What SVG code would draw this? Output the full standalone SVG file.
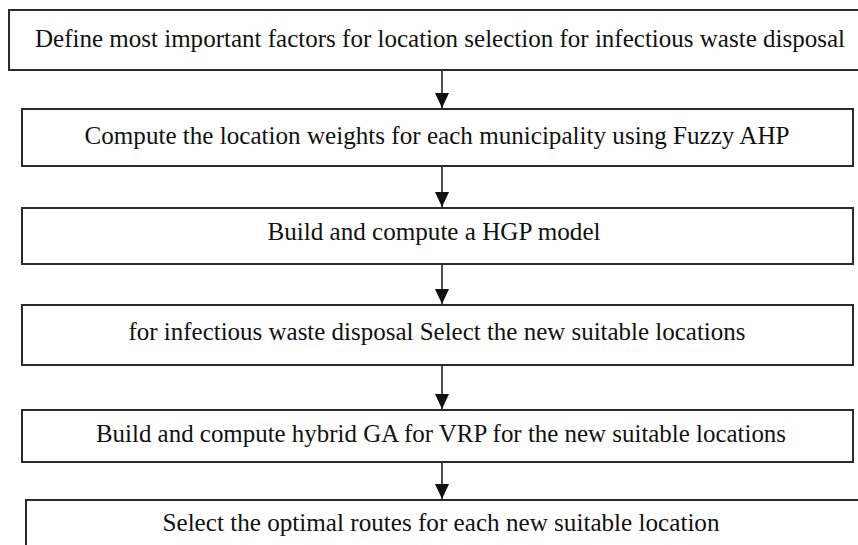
<svg xmlns="http://www.w3.org/2000/svg" width="858" height="545" viewBox="0 0 858 545">
  <style>
    .box { fill: #ffffff; stroke: #2b2b2b; stroke-width: 2; }
    .lbl { font-family: 'Liberation Serif', 'Times New Roman', Times, serif; font-size: 26px; fill: #111111; text-anchor: middle; }
    .link { stroke: #222222; stroke-width: 1.6; fill: none; marker-end: url(#head); }
  </style>
  <defs>
    <!-- solid triangular arrowhead, tip at the line end -->
    <marker id="head" viewBox="0 0 15 14" refX="15" refY="7" markerWidth="15" markerHeight="14" markerUnits="userSpaceOnUse" orient="auto">
      <path d="M0,0 L15,7 L0,14 Z" fill="#111111"/>
    </marker>
  </defs>
  <rect width="858" height="545" fill="#ffffff"/>

  <g id="connectors">
    <line class="link" x1="442" y1="71" x2="442" y2="108"/>
    <line class="link" x1="442" y1="167" x2="442" y2="207"/>
    <line class="link" x1="442" y1="265" x2="442" y2="304"/>
    <line class="link" x1="442" y1="366" x2="442" y2="409"/>
    <line class="link" x1="442" y1="463" x2="442" y2="499"/>
  </g>

  <g id="step1">
    <rect class="box" x="9" y="10" width="860" height="60"/>
    <text class="lbl" x="440" y="47" textLength="810" lengthAdjust="spacingAndGlyphs">Define most important factors for location selection for infectious waste disposal</text>
  </g>
  <g id="step2">
    <rect class="box" x="22" y="109" width="831" height="57"/>
    <text class="lbl" x="437" y="144" textLength="705" lengthAdjust="spacingAndGlyphs">Compute the location weights for each municipality using Fuzzy AHP</text>
  </g>
  <g id="step3">
    <rect class="box" x="22" y="208" width="831" height="56"/>
    <text class="lbl" x="434" y="240" textLength="333" lengthAdjust="spacingAndGlyphs">Build and compute a HGP model</text>
  </g>
  <g id="step4">
    <rect class="box" x="22" y="305" width="831" height="60"/>
    <text class="lbl" x="437" y="340" textLength="617" lengthAdjust="spacingAndGlyphs">for infectious waste disposal Select the new suitable locations</text>
  </g>
  <g id="step5">
    <rect class="box" x="22" y="410" width="831" height="52"/>
    <text class="lbl" x="441" y="442" textLength="690" lengthAdjust="spacingAndGlyphs">Build and compute hybrid GA for VRP for the new suitable locations</text>
  </g>
  <g id="step6">
    <rect class="box" x="26" y="500" width="843" height="60"/>
    <text class="lbl" x="441" y="531" textLength="557" lengthAdjust="spacingAndGlyphs">Select the optimal routes for each new suitable location</text>
  </g>
</svg>
